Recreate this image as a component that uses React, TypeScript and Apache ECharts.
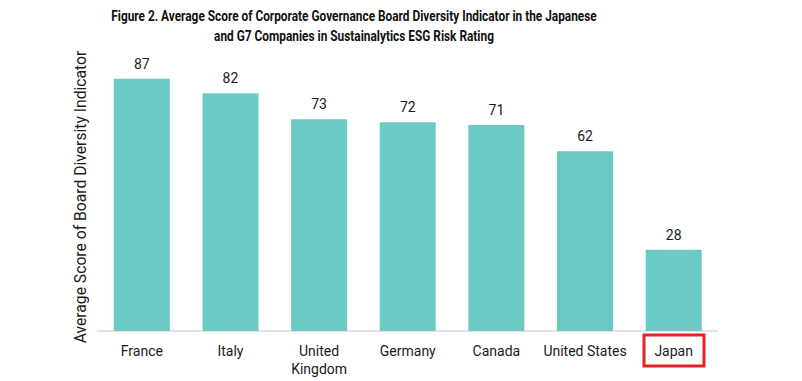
import React, { useEffect, useRef } from "react";
import * as echarts from "echarts";

const categories = ["France", "Italy", "United\nKingdom", "Germany", "Canada", "United States", "Japan"];
const scores = [87, 82, 73, 72, 71, 62, 28];
const titleLines = [
  "Figure 2. Average Score of Corporate Governance Board Diversity Indicator in the Japanese",
  "and G7 Companies in Sustainalytics ESG Risk Rating",
];
const yAxisTitle = "Average Score of Board Diversity Indicator";

const TITLE_FONT = "bold 14px Roboto";

function titleScale(): number {
  try {
    const ctx = document.createElement("canvas").getContext("2d");
    if (!ctx) return 0.75;
    ctx.font = TITLE_FONT;
    const w = ctx.measureText(titleLines[0]).width;
    return w > 0 ? 486 / w : 0.75;
  } catch (e) {
    return 0.75;
  }
}

export default function App() {
  const ref = useRef<HTMLDivElement>(null);
  useEffect(() => {
    if (!ref.current) return;
    const chart = echarts.init(ref.current, undefined, { renderer: "svg" });
    const s = titleScale();
    chart.setOption({
      animation: false,
      backgroundColor: "#ffffff",
      grid: { left: 97.5, right: 84, top: 41, bottom: 50, containLabel: false },
      xAxis: {
        type: "category",
        data: categories,
        axisLine: { show: true, lineStyle: { color: "#d9d9d9", width: 1.5 } },
        axisTick: { show: false },
        axisLabel: {
          margin: 11,
          fontFamily: "Roboto, sans-serif",
          fontSize: 14,
          lineHeight: 18,
          color: "#1a1a1a",
          interval: 0,
        },
      },
      yAxis: {
        type: "value",
        min: 0,
        max: 100,
        show: false,
        splitLine: { show: false },
      },
      series: [
        {
          type: "bar",
          data: scores,
          barWidth: 56,
          itemStyle: { color: "#6ccac5" },
          label: {
            show: true,
            position: "top",
            distance: 8,
            fontFamily: "Roboto, sans-serif",
            fontSize: 14,
            color: "#1a1a1a",
          },
        },
      ],
      graphic: [
        {
          type: "text",
          x: 354,
          y: 16,
          scaleX: s,
          style: {
            text: titleLines[0],
            font: TITLE_FONT,
            fill: "#111111",
            align: "center",
            verticalAlign: "middle",
          },
        },
        {
          type: "text",
          x: 354,
          y: 36,
          scaleX: s,
          style: {
            text: titleLines[1],
            font: TITLE_FONT,
            fill: "#111111",
            align: "center",
            verticalAlign: "middle",
          },
        },
        {
          type: "text",
          x: 80,
          y: 197,
          rotation: Math.PI / 2,
          style: {
            text: yAxisTitle,
            fontFamily: "Roboto, sans-serif",
            fontSize: 15.7,
            fill: "#1a1a1a",
            align: "center",
            verticalAlign: "middle",
          },
        },
        {
          type: "rect",
          shape: { x: 644, y: 335, width: 60, height: 31 },
          style: { fill: "none", stroke: "#e42228", lineWidth: 3 },
        },
      ],
    });
    return () => chart.dispose();
  }, []);
  return (
    <div
      ref={ref}
      style={{ position: "absolute", left: 0, top: 0, width: 802, height: 381 }}
    />
  );
}
